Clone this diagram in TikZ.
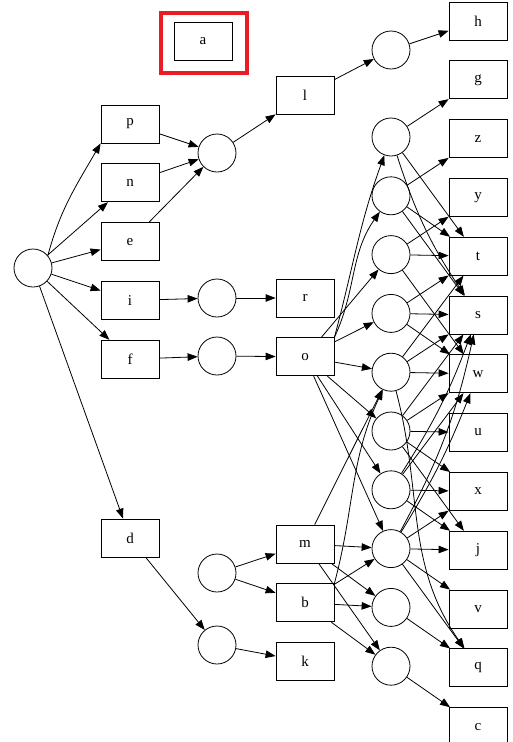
\documentclass[tikz,border=0pt]{standalone}
\usepackage{fontspec}
\setmainfont{Liberation Serif}
\usetikzlibrary{arrows.meta,positioning}
\definecolor{hlred}{RGB}{232,29,37}

\begin{document}
\begin{tikzpicture}[x=1pt,y=1pt,>={Triangle[length=10pt,width=7.5pt]},line width=0.8pt,node distance=20pt]
\tikzstyle{v}=[circle,draw,minimum size=38pt,inner sep=0pt]
\tikzstyle{bx}=[rectangle,draw,minimum width=58pt,minimum height=38pt,inner sep=0pt,font=\fontsize{15}{18}\selectfont]
\tikzstyle{hl}=[rectangle,draw=hlred,line width=4.6pt,minimum width=86pt,minimum height=60pt]
\useasboundingbox (0,0) rectangle (512,-742);

% marked box
\node[bx] (a) at (203,-41) {a};
\node[hl] (frame) at (204,-43) {};

% left part
\node[v] (root) at (33,-268) {};
\node[bx] (p) at (130,-124) {p};
\node[bx] (n) [below=of p] {n};
\node[bx] (e) [below=of n] {e};
\node[bx] (i) [below=of e] {i};
\node[bx] (f) [below=of i] {f};
\node[bx] (d) at (130,-538) {d};
\node[v] (m1) at (217,-153) {};
\node[v] (m2) at (217,-298) {};
\node[v] (m3) at (217,-356) {};
\node[v] (m4) at (217,-573) {};
\node[v] (m5) at (217,-645) {};
\node[bx] (l) at (305,-95) {l};
\node[bx] (r) at (305,-298) {r};
\node[bx] (o) [below=of r] {o};
\node[bx] (m) at (305,-544) {m};
\node[bx] (b) [below=of m] {b};
\node[bx] (k) [below=of b] {k};

% middle circles
\node[v] (t1) at (391,-50) {};
\node[v] (t2) at (391,-137) {};
\node[v] (t3) [below=of t2] {};
\node[v] (t4) [below=of t3] {};
\node[v] (t5) [below=of t4] {};
\node[v] (t6) [below=of t5] {};
\node[v] (t7) [below=of t6] {};
\node[v] (t8) [below=of t7] {};
\node[v] (t9) [below=of t8] {};
\node[v] (t10) [below=of t9] {};
\node[v] (t11) [below=of t10] {};

% right column
\node[bx] (h) at (478,-21) {h};
\node[bx] (g) [below=of h] {g};
\node[bx] (z) [below=of g] {z};
\node[bx] (y) [below=of z] {y};
\node[bx] (t) [below=of y] {t};
\node[bx] (s) [below=of t] {s};
\node[bx] (w) [below=of s] {w};
\node[bx] (u) [below=of w] {u};
\node[bx] (x) [below=of u] {x};
\node[bx] (j) [below=of x] {j};
\node[bx] (v) [below=of j] {v};
\node[bx] (q) [below=of v] {q};
\node[bx] (c) [below=of q] {c};

\draw[->] (root.40) to[out=75,in=-120] (p.south west);
\draw[->] (root) to (n);
\draw[->] (root) to (e);
\draw[->] (root) to (i);
\draw[->] (root) to (f);
\draw[->] (root) to (d);
\draw[->] (p) to (m1);
\draw[->] (n) to (m1);
\draw[->] (e) to (m1);
\draw[->] (m1) to (l);
\draw[->] (l) to (t1);
\draw[->] (t1) to (h);
\draw[->] (i) to (m2);
\draw[->] (m2) to (r);
\draw[->] (f) to (m3);
\draw[->] (m3) to (o);
\draw[->] (d) to (m5);
\draw[->] (m5) to (k);
\draw[->] (m4) to (m);
\draw[->] (m4) to (b);

\draw[->] (o.north east) to[out=75,in=-110] (t2);
\draw[->] (o.north east) to[out=65,in=-125] (t3);
\draw[->] (o) to (t4);
\draw[->] (o) to (t5);
\draw[->] (o) to (t6);
\draw[->] (o) to (t7);
\draw[->] (o) to (t8);
\draw[->] (o) to (t9);
\draw[->] (m) to (t6);
\draw[->] (m) to (t9);
\draw[->] (m) to (t10);
\draw[->] (m) to (t11);
\draw[->] (b.north east) to[out=75,in=-115] (t6);
\draw[->] (b) to (t9);
\draw[->] (b) to (t10);
\draw[->] (b) to (t11);

\draw[->] (t2) to (g);
\draw[->] (t2) to (t);
\draw[->] (t2) to[bend right=8] (s);
\draw[->] (t3) to (z);
\draw[->] (t3) to (t);
\draw[->] (t3) to (s);
\draw[->] (t4) to (y);
\draw[->] (t4) to (t);
\draw[->] (t4) to (w);
\draw[->] (t5) to (t);
\draw[->] (t5) to (s);
\draw[->] (t5) to (w);
\draw[->] (t6) to (t);
\draw[->] (t6) to (s);
\draw[->] (t6) to (w);
\draw[->] (t6) to[out=-75,in=125] (q);
\draw[->] (t7) to (s);
\draw[->] (t7) to (w);
\draw[->] (t7) to (u);
\draw[->] (t7) to (x);
\draw[->] (t7) to (j);
\draw[->] (t8) to[bend right=6] (s);
\draw[->] (t8) to (w);
\draw[->] (t8) to (x);
\draw[->] (t8) to (j);
\draw[->] (t9) to[bend right=8] (s);
\draw[->] (t9) to[bend right=5] (w);
\draw[->] (t9) to (x);
\draw[->] (t9) to (j);
\draw[->] (t9) to (v);
\draw[->] (t9) to (q);
\draw[->] (t10) to (q);
\draw[->] (t11) to (c);
\end{tikzpicture}
\end{document}
